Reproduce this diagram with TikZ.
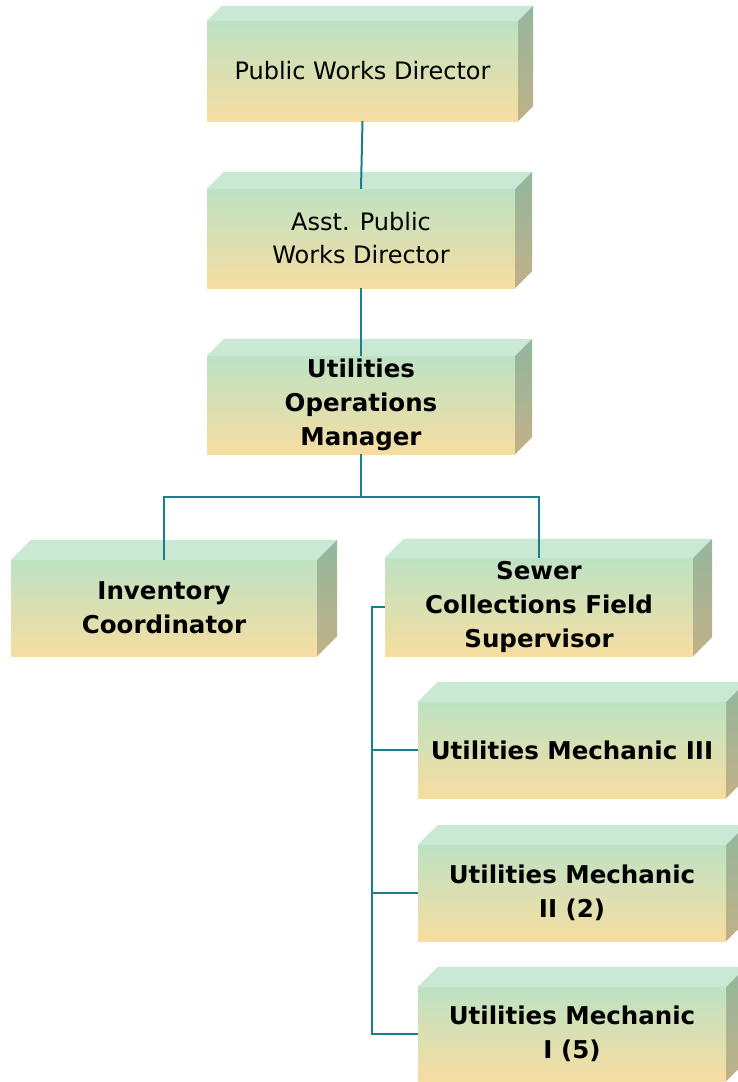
\documentclass[tikz,border=0pt]{standalone}
\usepackage{fontspec}
\setmainfont{DejaVu Sans}
\definecolor{topface}{HTML}{C9E9D4}
\definecolor{fronttop}{HTML}{BEE2C4}
\definecolor{frontbot}{HTML}{F6DDA0}
\definecolor{sidetop}{HTML}{93B79E}
\definecolor{sidebot}{HTML}{C2B086}
\definecolor{linkc}{HTML}{17808A}
\tikzset{
  front/.style={shade, top color=fronttop, bottom color=frontbot, inner sep=0pt, align=center, font=\fontsize{24}{33}\selectfont},
  boldfront/.style={front, font=\fontsize{24.5}{34}\selectfont\bfseries},
  link/.style={draw=linkc, line width=2pt},
}
% #1 name, #2 x1, #3 y1, #4 x2, #5 y2, #6 depth, #7 style, #8 text
\newcommand\cuboid[8]{%
  \node[#7, minimum width={(#4-#2)*1pt}, minimum height={(#5-#3)*1pt}] (#1) at ({(#2+#4)/2},{(#3+#5)/2}) {#8};
  \fill[topface] (#1.north west) -- ++(#6,-#6) -- ([shift={(#6,-#6)}]#1.north east) -- (#1.north east) -- cycle;
  \shade[top color=sidetop, bottom color=sidebot] (#1.north east) -- ++(#6,-#6) -- ([shift={(#6,-#6)}]#1.south east) -- (#1.south east) -- cycle;
}
\begin{document}
\begin{tikzpicture}[x=1pt,y=-1pt]
\useasboundingbox[fill=white] (0,0) rectangle (737,1082);
\cuboid{pwd}{207}{21}{518}{121}{15}{front}{Public Works Director}
\cuboid{asst}{207}{189}{515}{288}{17}{front}{Asst. Public\\Works Director}
\cuboid{uom}{207}{356}{515}{454}{17}{boldfront}{Utilities\\Operations\\Manager}
\cuboid{inv}{11}{560}{317}{656}{20}{boldfront}{Inventory\\Coordinator}
\cuboid{sew}{385}{558}{693}{656}{19}{boldfront}{Sewer\\Collections Field\\Supervisor}
\cuboid{m3}{418}{702}{726}{798}{20}{boldfront}{Utilities Mechanic III}
\cuboid{m2}{418}{845}{726}{941}{20}{boldfront}{Utilities Mechanic\\II (2)}
\cuboid{m1}{418}{987}{726}{1081}{20}{boldfront}{Utilities Mechanic\\I (5)}
\coordinate (hub) at (361,497);
\coordinate (sp) at (372,607);
\draw[link] (pwd.south) -- (asst.north);
\draw[link] (asst.south) -- (uom.north);
\draw[link] (uom.south) -- (hub);
\draw[link] (inv.north) |- (hub) -| (sew.north);
\draw[link] (sew.west) -- (sp) |- (m3.west);
\draw[link] (sp) |- (m2.west);
\draw[link] (sp) |- (m1.west);
\end{tikzpicture}
\end{document}
